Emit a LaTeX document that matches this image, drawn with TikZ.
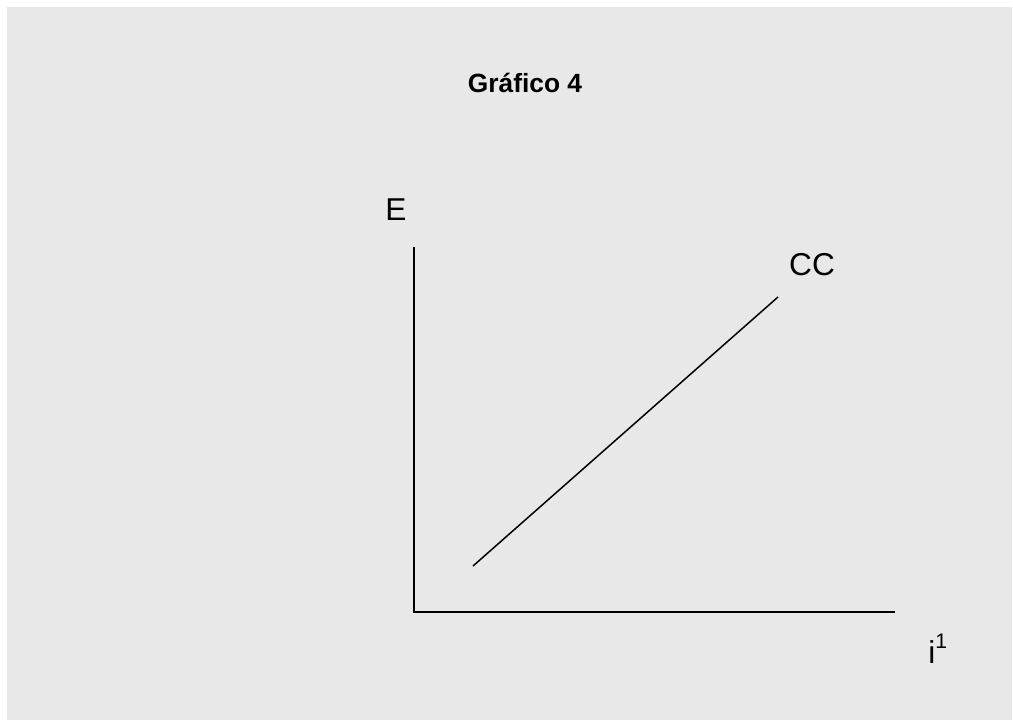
\documentclass[tikz,border=0pt]{standalone}
\usepackage{fontspec}
\setmainfont{Liberation Sans}
\usepackage{tikz}
\usepackage{xcolor}

\definecolor{bggray}{RGB}{232,232,232}
\tikzset{
  axislabel/.style={inner sep=0pt,font=\fontsize{18}{20}\selectfont},
  axis/.style={line width=1pt},
  curve/.style={line width=0.85pt}
}

\begin{document}
\begin{tikzpicture}[x=0.02cm,y=-0.02cm]
\useasboundingbox (0,0) rectangle (1013,721);
\fill[bggray] (7,7) rectangle (1012,720);
% axes
\coordinate (orig) at (414,612);
\coordinate (ytop) at (414,247);
\coordinate (xend) at (895,612);
\draw[axis] (ytop)--(orig)--(xend);
% CC line
\coordinate (cclow) at (473,566);
\coordinate (cchigh) at (778,297);
\draw[curve] (cclow)--(cchigh);
\node[inner sep=0pt,anchor=base,font=\fontsize{15}{17}\selectfont\bfseries] (title) at (525,92) {Gráfico 4};
\node[axislabel] (elab) at (396,210) {E};
\node[axislabel] (cclab) at (812,265) {CC};
\node[axislabel,anchor=base west] (ilab) at (928,663) {i\raisebox{8.5pt}{\fontsize{12}{14}\selectfont 1}};
\end{tikzpicture}
\end{document}
